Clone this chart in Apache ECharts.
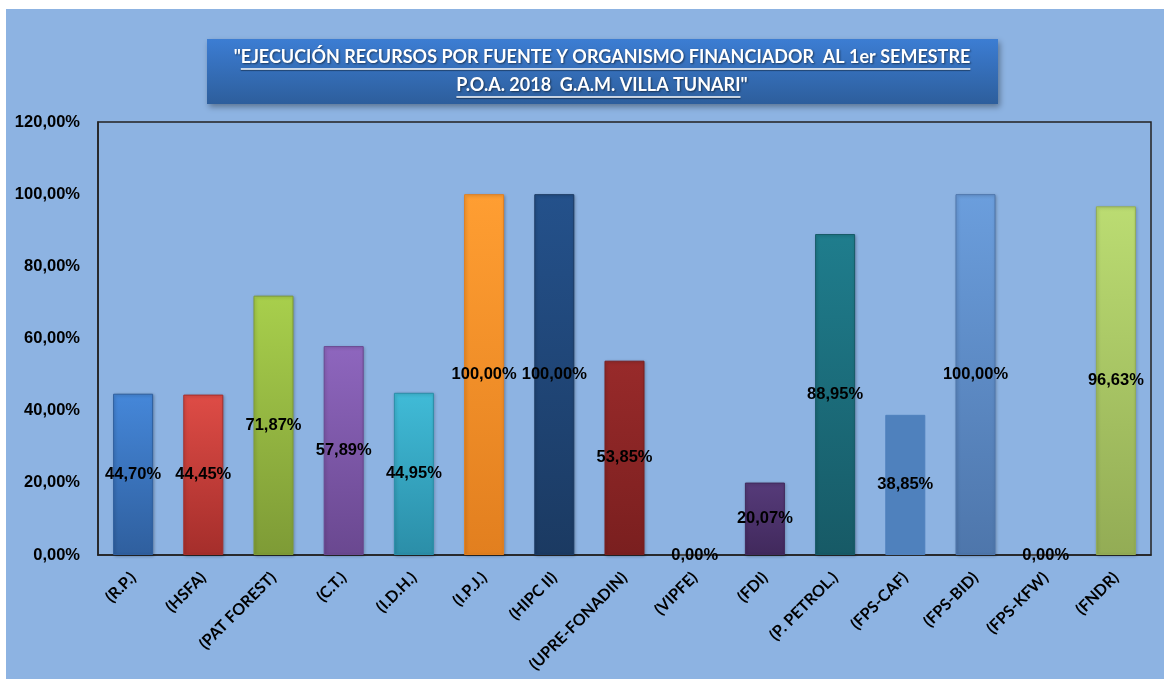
<!DOCTYPE html>
<html><head><meta charset="utf-8">
<script src="https://cdn.jsdelivr.net/npm/echarts@6/dist/echarts.min.js"></script>
<style>html,body{margin:0;padding:0;background:#fff;}#c{width:1164px;height:679px;}</style>
</head><body><div id="c"></div>
<script>
var categories = ["(R.P.)","(HSFA)","(PAT FOREST)","(C.T.)","(I.D.H.)","(I.P.J.)","(HIPC II)","(UPRE-FONADIN)","(VIPFE)","(FDI)","(P. PETROL.)","(FPS-CAF)","(FPS-BID)","(FPS-KFW)","(FNDR)"];
var values = [44.70,44.45,71.87,57.89,44.95,100.00,100.00,53.85,0.00,20.07,88.95,38.85,100.00,0.00,96.63];
var topColors = ["#4587D9","#DE4C46","#A8CF4C","#8E66BE","#40BBD7","#FF9E32","#24518B","#982A2A","#777777","#563B7A","#1F7D8D","#4F81BD","#6B9EDD","#777777","#BBDC72"];
var bottomColors = ["#2F5F9E","#A52E2B","#7E9B36","#6A4890","#2B8EA8","#E27F1F","#1B3A62","#7A1F1F","#555555","#41295C","#175A66","#4F81BD","#4E76AB","#555555","#93AC55"];
var yTicks = {min:0, max:120, interval:20};
var titleLines = ["\"EJECUCIÓN RECURSOS POR FUENTE Y ORGANISMO FINANCIADOR  AL 1er SEMESTRE", "P.O.A. 2018  G.A.M. VILLA TUNARI\""];

var titleFont = 'bold 18px Lato, sans-serif';
var cv = document.createElement('canvas').getContext('2d');
cv.font = titleFont;
var cx = 602;
var w1 = cv.measureText(titleLines[0]).width, q = cv.measureText('"').width;
var w2 = cv.measureText(titleLines[1]).width;
var l1x1 = cx - w1/2 + q, l1x2 = cx + w1/2;
var l2x1 = cx - w2/2, l2x2 = cx + w2/2 - q;

var chart = echarts.init(document.getElementById('c'));
var data = values.map(function(v,i){
  var flat = (i === 11);
  return {
    value: v,
    itemStyle: {
      color: flat ? topColors[i] : new echarts.graphic.LinearGradient(0,0,0,1,[
        {offset:0,color:topColors[i]},{offset:1,color:bottomColors[i]}]),
      borderColor: flat ? topColors[i] : bottomColors[i],
      borderWidth: 1,
      shadowColor: flat ? 'transparent' : 'rgba(0,0,0,0.25)', shadowBlur: flat ? 0 : 3, shadowOffsetX: 1, shadowOffsetY: 1
    }
  };
});
var fmt = function(v){ return v.toFixed(2).replace('.', ',') + '%'; };
var ts = {fill:'#fff', font:titleFont, textAlign:'center', textShadowColor:'rgba(0,0,0,0.5)', textShadowBlur:2, textShadowOffsetX:1, textShadowOffsetY:1};
chart.setOption({
  backgroundColor: 'transparent',
  animation: false,
  graphic: [
    {type:'rect', z:-10, shape:{x:6,y:9,width:1158,height:670}, style:{fill:'#8DB3E2'}},
    {type:'rect', z:1, shape:{x:207,y:39,width:791,height:65},
      style:{fill:new echarts.graphic.LinearGradient(0,0,0,1,[{offset:0,color:'#3C7DD3'},{offset:1,color:'#2D5E9C'}]),
        shadowBlur:6, shadowColor:'rgba(0,0,0,0.35)', shadowOffsetX:2, shadowOffsetY:3}},
    {type:'text', z:2, x:cx, y:48, style:Object.assign({text:titleLines[0]}, ts)},
    {type:'text', z:2, x:cx, y:76, style:Object.assign({text:titleLines[1]}, ts)},
    {type:'line', z:2, shape:{x1:l1x1,y1:69,x2:l1x2,y2:69}, style:{stroke:'#fff', lineWidth:1.5, shadowColor:'rgba(0,0,0,0.5)', shadowOffsetY:1, shadowBlur:1}},
    {type:'line', z:2, shape:{x1:l2x1,y1:97,x2:l2x2,y2:97}, style:{stroke:'#fff', lineWidth:1.5, shadowColor:'rgba(0,0,0,0.5)', shadowOffsetY:1, shadowBlur:1}}
  ],
  grid: {left:98, right:13, top:122, bottom:124, show:true, borderColor:'#222', borderWidth:1.5},
  xAxis: {
    type:'category', data:categories,
    axisLine:{show:true, lineStyle:{color:'#222', width:1.5}},
    axisTick:{show:false},
    axisLabel:{rotate:45, interval:0, color:'#000', fontWeight:'bold', fontSize:16, fontFamily:'Lato, "Open Sans", sans-serif', margin:20}
  },
  yAxis: {
    type:'value', min:yTicks.min, max:yTicks.max, interval:yTicks.interval,
    splitLine:{show:false},
    axisLine:{show:true, lineStyle:{color:'#222', width:1.5}},
    axisTick:{show:false},
    axisLabel:{formatter:fmt, color:'#000', fontWeight:'bold', fontSize:16.5, fontFamily:'"Liberation Sans", Arial, sans-serif', margin:18}
  },
  series: [{
    type:'bar', data:data, barWidth:'57%',
    label:{show:true, position:'inside', formatter:function(p){return fmt(p.value);}, color:'#000', fontWeight:'bold', fontSize:16.5, fontFamily:'"Liberation Sans", Arial, sans-serif'}
  }]
});
</script></body></html>
